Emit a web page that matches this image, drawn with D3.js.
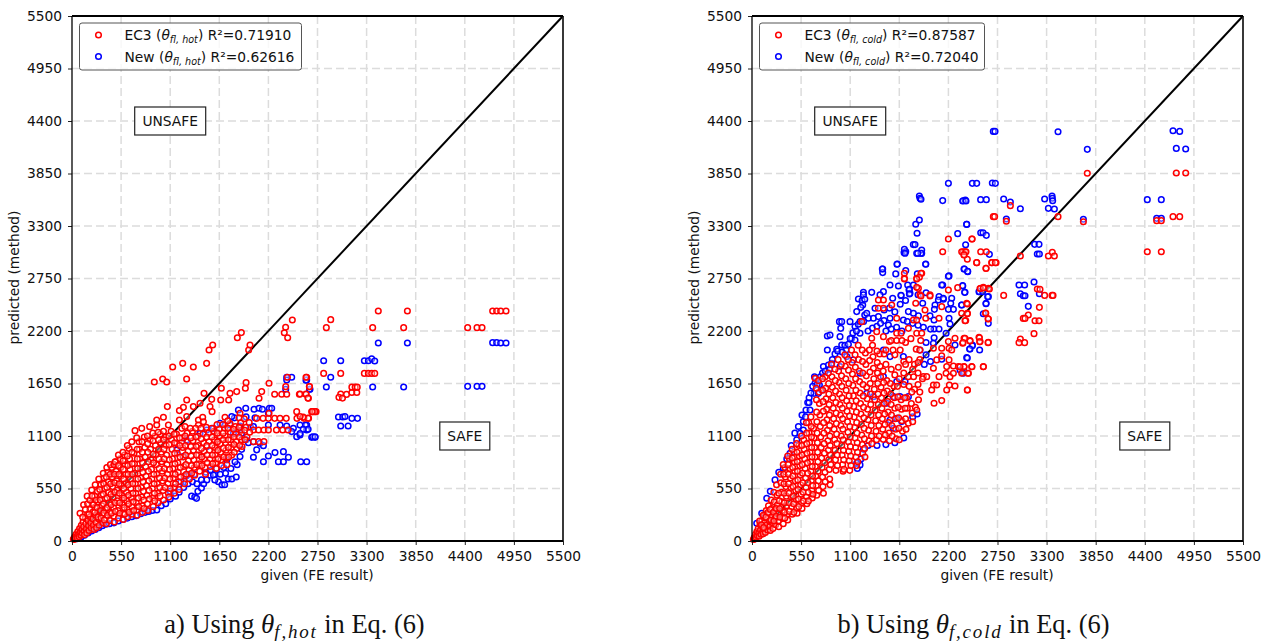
<!DOCTYPE html>
<html>
<head>
<meta charset="utf-8">
<script src="https://cdn.jsdelivr.net/npm/d3@7"></script>
<style>
  html, body { margin: 0; padding: 0; background: #fff; }
  svg { display: block; }
</style>
</head>
<body>
<div id="chart"></div>
<script>
// axis ticks shared by both panels
var tickValues = [0, 550, 1100, 1650, 2200, 2750, 3300, 3850, 4400, 4950, 5500];
var diagonal = [0, 5500];

// panel a, values as [given, predicted]
var hotNew = [
[60,25],[100,40],[140,60],[180,85],[220,105],[260,120],[300,140],[340,160],[380,175],[420,180],[470,190],[520,210],[570,225],[620,240],[670,255],[720,265],[770,285],[820,300],[860,310],[900,320],[950,325],[1000,370],[1050,390],[1100,440],[1160,470],[1200,510],[1250,560],[1300,600],[1340,470],[1375,460],[1395,447],[1410,520],[1450,555],[1475,600],[1510,640],[1550,690],[1600,700],[1640,620],[1680,590],[1710,590],[1750,650],[1790,650],[1840,670],[1600,640],[1660,700],[1720,710],[1300,700],[1370,700],
[1100,520],[1150,560],[1220,620],[1280,680],[1350,620],[1400,600],[1450,640],[1500,720],[1550,740],[1620,760],[1700,770],[1780,760],[1850,800],[1900,960],[1950,1060],[2000,1190],[2050,1290],[1950,1300],[1820,1290],
[1864,1373],[1946,1390],[2039,1380],[2095,1390],[2133,1380],[2211,1390],[2237,1390],[2200,1338],[1789,1303],[1714,1215],[1770,1215],[1882,1205],[1808,1128],[1900,1128],[1976,1030],[2032,1040],[2106,1023],[2144,999],[2032,1198],[2200,1215],[2331,1215],[2405,1205],[2480,1180],[2461,1146],[2517,1093],[2554,1111],[2685,1086],[2723,1086],[2554,1215],[2629,1215],[2629,1163],
[2032,877],[2069,955],[2144,831],[2200,891],[2274,926],[2368,936],[2312,831],[2368,831],[2424,877],[2562,831],[2629,831],
[2405,1715],[2461,1715],[2405,1687],[2394,1589],[2629,1687],[2666,1589],
[1509,1163],[1584,1180],[1658,1233],[1434,1128],[1285,1058],[1173,954],[1509,988],[1247,884],[1882,884],[1826,831],[1733,849],[1584,692],
[3431,2074],[3757,2074],[4712,2078],[4757,2078],[4802,2074],[4862,2074],
[2819,1889],[3010,1889],[3275,1889],[3320,1889],[3357,1910],[3391,1885],[2898,1715],[2849,1613],[3368,1613],[3715,1613],[4432,1620],[4537,1620],[4593,1620],
[2985,1299],[3033,1299],[3058,1303],[3135,1285],[3198,1285],[3010,1205],[3093,1205],[2621,1685],[2660,1590],[2615,1215],[2645,1170],[2590,1170],[2697,1092],[2722,1092],[2555,1125]
];
var hotEc3 = [
[15,20],[25,15],[30,45],[40,30],[45,70],[55,50],[60,30],[65,100],[75,70],[80,45],[85,130],[95,95],[100,60],[105,165],[110,120],[115,80],[125,200],[130,150],[135,100],[140,65],[150,240],[155,180],[160,125],[165,85],[175,280],[180,215],[185,160],[190,110],[200,330],[205,255],[210,190],[215,135],[225,400],[230,300],[235,230],[240,165],[245,120],[255,470],[260,350],[265,270],[270,195],[275,140],[285,520],[290,410],[295,310],[300,230],[305,165],
[325,590],[330,480],[335,370],[340,270],[345,190],[360,660],[365,550],[370,440],[375,330],[380,240],[385,180],[400,720],[405,620],[410,510],[415,400],[420,300],[425,215],[445,770],[450,670],[455,570],[460,460],[465,350],[470,260],[475,200],[490,830],[495,730],[500,630],[505,530],[510,420],[515,320],[520,240],[540,860],[545,770],[550,680],[555,580],[560,480],[565,380],[570,290],[575,225],[590,900],[595,800],[600,700],[605,610],[610,510],[615,420],[620,330],[625,255],[640,970],[645,860],[650,750],[655,650],[660,550],[665,450],[670,360],[675,280],[695,920],[700,810],[705,710],[710,600],[715,500],[720,400],[725,320],[730,270],
[706,1156],[781,1180],[750,1040],[755,960],[760,860],[765,760],[770,660],[775,560],[780,460],[785,370],[790,300],
[810,1090],[815,980],[820,880],[825,780],[830,680],[835,580],[840,480],[845,390],[850,320],
[870,1198],[875,1060],[880,960],[885,850],[890,750],[895,650],[900,550],[905,450],[910,360],
[930,1100],[935,1000],[940,900],[945,800],[950,700],[955,600],[960,500],[965,400],
[949,1268],[949,1215],[1024,1296],[1080,1215],
[990,1120],[995,1030],[1000,930],[1005,830],[1010,730],[1015,630],[1020,530],[1025,430],
[1050,1090],[1055,1000],[1060,900],[1065,800],[1070,700],[1075,600],[1080,500],[1085,460],
[1110,1150],[1115,1060],[1120,960],[1125,860],[1130,760],[1135,660],[1140,560],[1145,500],
[1170,1120],[1175,1020],[1180,920],[1185,820],[1190,720],[1195,620],[1200,540],
[1230,1180],[1235,1080],[1240,980],[1245,880],[1250,780],[1255,680],[1260,600],
[1290,1130],[1295,1040],[1300,940],[1305,840],[1310,740],[1315,650],
[1350,1150],[1355,1050],[1360,950],[1365,850],[1370,770],[1375,690],
[1410,1100],[1415,1000],[1420,900],[1425,810],[1430,730],
[1470,1120],[1475,1030],[1480,940],[1485,860],[1490,770],[1495,700],
[1530,1130],[1535,1040],[1540,950],[1545,860],[1550,780],
[1590,1150],[1595,1060],[1600,980],[1605,900],[1610,820],[1615,760],
[1650,1170],[1655,1100],[1660,1020],[1665,930],[1670,850],[1675,790],
[1710,1180],[1715,1100],[1720,1030],[1725,950],[1730,870],[1735,800],
[1770,1230],[1775,1140],[1780,1060],[1785,980],[1790,900],
[1830,1200],[1835,1120],[1840,1040],[1845,970],
[1890,1240],[1895,1160],[1900,1060],[1905,990],[1950,1190],[1960,1090],
[922,1666],[1016,1697],[1061,1666],[1128,1823],[1240,1861],[1284,1697],[1359,1823],[1508,1861],[1535,2001],[1576,2053],[1852,2130],[1897,2183],[1979,2001],[1994,2053],[2393,2240],[2378,2182],[2416,2130],[2468,2315],
[1068,1408],[1203,1366],[1248,1400],[1285,1477],[1359,1408],[1434,1443],[1479,1547],[1565,1484],[1546,1408],[1569,1355],[1666,1477],[1673,1600],[1770,1547],[1755,1477],[1845,1565],[1950,1659],[1942,1600],[2207,1652],[2125,1565],[2095,1495],[2270,1537],[2349,1537],[2405,1537],[2394,1617],[2413,1715],[2547,1537],[2629,1715],[2622,1537],[2659,1617],[2648,1495],[2517,1355],[2685,1355],[2734,1355],
[1203,1268],[1285,1303],[1416,1268],[1464,1296],[1714,1296],[1882,1338],[1472,1250],[1416,1215],
[2069,1285],[2140,1285],[2200,1285],[2270,1285],[2330,1285],[2400,1285],[2520,1285],[2600,1285],[2650,1285],
[2032,1163],[2090,1163],[2150,1163],[2200,1163],[2290,1163],[2360,1163],[2420,1163],[2032,1041],[2090,1041],[2150,1041],[2207,1338],
[3431,2410],[3757,2410],[2898,2319],[2849,2235],[3368,2235],[3715,2235],[4432,2235],[4537,2235],[4593,2235],[4712,2410],[4757,2410],[4802,2410],[4862,2410],
[2819,1756],[3010,1756],[3275,1756],[3320,1756],[3357,1756],[3391,1756],
[3010,1540],[2990,1505],[3030,1497],[3075,1536],[3135,1555],[3190,1555],[3135,1612],[3172,1612],[3195,1612],[2621,1715],[2660,1617],[2621,1540],[2643,1497],[2555,1540],
[2705,1355],[2722,1355],[2690,1355],[2645,1287],[2590,1298],[2555,1305]
];
// second pass through the dense part of the cloud
var hotEc3Dense = [
[90,290],[120,250],[130,380],[150,330],[170,470],[175,390],[190,280],[200,430],[221,535],[225,470],[240,380],[255,300],[260,590],[270,430],[280,350],[290,250],[300,650],[310,540],[315,430],[320,320],[325,240],[350,709],[355,600],[350,490],[352,390],[355,295],[362,220],
[390,770],[385,670],[390,560],[392,450],[395,350],[398,270],[430,800],[428,700],[432,600],[436,490],[438,380],[442,290],[470,800],[475,700],[478,610],[480,510],[483,400],[486,310],[482,831],[520,900],[520,790],[525,700],[528,600],[530,500],[533,400],[535,290],[570,930],[572,840],[575,750],[578,650],[580,550],[583,450],[586,350],[590,280],[620,1000],[620,890],[625,790],[628,700],[630,590],[633,480],[636,390],[640,300],[670,1040],[672,930],[675,810],[678,700],[680,600],[683,500],[686,410],[690,320],[725,1080],[730,960],[732,860],[735,760],[738,650],[740,550],[743,450],[746,360],
[785,1040],[788,930],[790,820],[793,720],[796,620],[800,520],[803,430],[806,340],[845,1100],[848,1020],[850,930],[853,830],[856,730],[860,630],[863,530],[866,440],[905,1130],[908,1050],[910,910],[913,820],[916,700],[920,600],[923,500],[926,420],[965,1140],[968,1060],[970,960],[973,860],[976,760],[980,660],[983,560],[986,470],[1025,1150],[1028,1060],[1030,960],[1033,860],[1036,760],[1040,660],[1043,560],[1085,1100],[1088,1010],[1090,850],[1093,750],[1096,650],[1100,550],[1145,1120],[1148,1030],[1150,920],[1153,810],[1156,700],[1160,600],[1205,1080],[1208,1000],[1210,880],[1213,770],[1216,670],[1265,1200],[1268,1100],[1270,1000],[1273,900],[1276,800],[1280,700],[1325,1180],[1330,1080],[1332,990],[1335,890],[1338,790],[1340,710],
[1385,1180],[1390,1090],[1392,990],[1395,900],[1398,800],[1445,1180],[1448,1070],[1450,970],[1453,880],[1456,790],[1505,1190],[1508,1090],[1510,1000],[1513,900],[1516,820],[1565,1180],[1568,1090],[1570,1000],[1573,900],[1576,810],[1625,1220],[1628,1130],[1630,1040],[1633,950],[1636,860],[1690,1220],[1692,1130],[1695,1060],[1697,970],[1700,880],[1745,1260],[1748,1180],[1750,1060],[1752,980],[1755,880],[1810,1170],[1812,1090],[1815,1010],[1818,930],[1870,1290],[1872,1190],[1875,1090],[1878,1000],[1930,1280],[1935,1160],[1938,1060],[1985,1240],[1990,1140]
];

// panel b
var coldNew = [
[1464,2850],[1464,2812],[1628,2902],[1610,2798],[1722,2833],[1946,2902],[1703,3021],[1722,3032],[1845,3014],[1901,3014],[2207,2777],[2136,2682],[2375,2850],[2416,2822],[1546,2682],[1640,2672],[1744,2682],[1808,2682],[1759,2630],[1472,2612],[1341,2605],[1248,2605],[1248,2578],[1192,2536],[1233,2518],[1263,2532],[1240,2473],[1218,2448],[1173,2403],[1263,2368],[1285,2386],[1378,2438],[1434,2578],[1576,2543],[1670,2571],[1770,2595],[1912,2490],[2095,2560],[2088,2525],[2144,2532],[2237,2543],[2226,2490],[2200,2427],[2256,2427],[2349,2473],[2360,2672],[2386,2605],[2543,2612],[2648,2560],[2622,2490],[2050,2473],[2043,2427],
[979,2298],[1005,2298],[1098,2298],[1154,2246],[994,2228],[844,2148],[874,2158],[986,2141],[1117,2124],[1154,2106],[1210,2176],[1304,2333],[1360,2333],[1416,2351],[1479,2309],[1528,2263],[1546,2333],[1696,2316],[1752,2403],[1808,2386],[1864,2358],[1994,2358],[2039,2316],[2039,2221],[2095,2221],[2207,2333],[2218,2274],[2174,2176],[2032,2071],[2274,2054],[2469,2054],[2442,2012],[2405,1921],[2125,1904],[2331,1792],[2375,1774],
[844,2001],[949,2008],[1005,2054],[1053,2001],[800,1827],[856,1844],[893,1862],[717,1705],[706,1652],[755,1635],[695,1547],[743,1547],[781,1582],[624,1450],[639,1450],[605,1373],[650,1373],[575,1251],[575,1163],[501,1059],[538,1128],[426,919],[351,762],[258,640],[165,448],[109,290],[53,185],[1210,797],[1173,814],
[1752,1512],[1658,1512],[1584,1512],[1509,1443],[1546,1268],[1621,1285],[1677,1251],[1584,1181],[1714,1670],[1621,1670],[1472,1722],[1360,1512],[1285,1547],[1882,2001],[1696,1932],[1546,1932],[1472,2001],[1136,1897],[1061,1932],[1210,1757],[986,1827],
[640,1500],[660,1550],[680,1620],[700,1720],[730,1640],[765,1720],[790,1760],[820,1780],[870,1800],[900,1900],[930,1960],[960,1990],[1010,1980],[1040,2050],[1080,2060],[1100,2120],[1130,2180],[1170,2200],[1190,2270],[1210,2300],[1250,2300],[1300,2200],[1350,2230],[1400,2250],[1440,2280],[1500,2200],[1560,2220],[1620,2240],[1680,2200],[1740,2300],[1800,2280],[1860,2260],[1920,2240],[1600,2400],[1480,2420],[1540,2440],[1660,2480],[1720,2520],[1860,2580],[1950,2600],[2000,2220],[2040,2130],[1950,2080],[1950,1950],[1930,1850],[2000,1880],[440,1000],[480,1130],[520,1200],[560,1320],[600,1300],[205,520],[300,720],[390,860],
[1300,1000],[1400,1000],[1500,1010],[1600,1030],[1700,1080],[1800,1300],[1850,1330],[1180,760],[1220,860],[1250,960],
[2703,4291],[2722,4291],[3428,4288],[3756,4103],[4716,4298],[4791,4291],[4753,4113],[4858,4106],[2468,3747],[2517,3747],[2692,3750],[2726,3747],[2367,3565],[2390,3572],[2561,3576],[2625,3576],[2819,3583],[2894,3551],[3006,3481],[3278,3583],[3361,3614],[3364,3590],[3368,3565],[3320,3485],[3387,3478],[2849,3373],[3712,3370],[4428,3576],[4585,3576],[4533,3380],[4585,3380],[2405,3317],[2562,3230],[2588,3230],[2625,3202],[2393,3104],[2659,3003],[3166,3108],[3215,3108],[3196,3006],[3219,3006],[2379,2849],[2416,2825],[2360,2675],[2382,2605],[2547,2612],[2584,2612],[2640,2559],[2621,2486],[2349,2472],[2591,2381],[2647,2280],[2991,2682],[3054,2682],[3159,2713],[3006,2591],[3039,2570],[3058,2570],[3219,2591],[3095,2458],[2468,2046],[2438,2011],[2550,2001],[2412,1917],[2367,1757],
[2200,3747],[1875,3615],[1882,3590],[1893,3580],[2136,3566],[2360,3562],[2397,3562],[1875,3363],[1834,3318],[2405,3318],[1849,3224],[2304,3220],[1807,3105],[1826,3105],[1707,3056],[1714,3014],[1901,3049],[1893,3014],[1856,3014],[1946,2899],[1624,2899],[1460,2850],[1852,2798],[2200,2773],[2125,2682],[2143,2543],[1763,2637],[1763,2588],[1669,2574]
];
var coldEc3 = [
[15,15],[25,35],[30,20],[40,70],[45,40],[55,100],[60,55],[70,130],[75,80],[80,50],[90,170],[95,115],[100,70],[110,210],[115,150],[120,100],[125,75],[135,260],[140,190],[145,130],[150,90],[160,320],[165,240],[170,170],[175,115],[185,370],[190,290],[195,210],[200,150],[205,110],[215,430],[220,340],[225,260],[230,190],[235,130],[245,510],[250,410],[255,320],[260,240],[265,170],[275,590],[280,480],[285,380],[290,290],[295,210],[300,150],
[320,700],[325,610],[330,510],[335,410],[340,320],[345,240],[350,180],[370,770],[375,670],[380,570],[385,470],[390,370],[395,280],[400,220],[420,860],[425,760],[430,660],[435,560],[440,460],[445,360],[450,280],[470,930],[475,830],[480,730],[485,630],[490,530],[495,430],[500,340],[505,290],[525,1000],[530,890],[535,790],[540,690],[545,590],[550,490],[555,400],[560,340],[580,1060],[585,960],[590,860],[595,760],[600,660],[605,560],[610,460],[615,390],[635,1240],[640,1130],[645,1030],[650,930],[655,830],[660,730],[665,630],[670,530],[675,450],[690,1180],[695,1080],[700,980],[705,880],[710,780],[715,680],[720,580],[725,480],
[706,1705],[745,1680],[750,1560],[755,1440],[760,1320],[765,1200],[770,1090],[775,980],[780,870],[785,770],[790,670],[795,570],[800,500],
[820,1720],[825,1600],[830,1490],[835,1380],[840,1270],[845,1160],[850,1050],[855,950],[860,850],[865,750],[870,650],[875,590],
[890,1850],[895,1720],[900,1610],[905,1500],[910,1390],[915,1280],[920,1170],[925,1060],[930,950],[935,850],[940,740],
[965,1900],[970,1780],[975,1660],[980,1540],[985,1430],[990,1320],[995,1210],[1000,1100],[1005,1000],[1010,900],[1015,800],[1020,730],
[1040,1950],[1045,1830],[1050,1700],[1055,1580],[1060,1470],[1065,1360],[1070,1250],[1075,1140],[1080,1040],[1085,940],[1090,840],[1095,740],
[1115,2000],[1120,1870],[1125,1750],[1130,1630],[1135,1520],[1140,1410],[1145,1300],[1150,1190],[1155,1080],[1160,980],[1165,880],[1170,790],
[1190,2050],[1195,1900],[1200,1780],[1205,1670],[1210,1550],[1215,1440],[1220,1330],[1225,1220],[1230,1110],[1235,1010],[1240,920],
[1270,1970],[1275,1850],[1280,1730],[1285,1610],[1290,1490],[1295,1380],[1300,1270],[1305,1160],[1310,1050],
[1229,2298],[1350,2050],[1355,1930],[1360,1810],[1365,1700],[1370,1590],[1375,1480],[1380,1370],[1385,1260],[1390,1150],[1395,1060],
[1430,1960],[1435,1830],[1440,1720],[1445,1610],[1450,1500],[1455,1390],[1460,1280],[1465,1170],[1470,1065],
[1510,1680],[1515,1570],[1520,1460],[1525,1350],[1530,1240],[1535,1130],[1540,1050],
[1590,1620],[1595,1500],[1600,1390],[1605,1280],[1610,1170],[1615,1070],
[1670,1480],[1675,1380],[1680,1260],[1685,1150],[1730,1500],[1740,1390],
[1700,1640],[1760,1620],[1820,1590],[1880,1560],[1830,1400],[1785,1440],[1752,1233],[1845,1373],
[1540,2090],[1600,1950],[1660,2000],[1720,2080],[1780,2120],[1840,2010],[1880,2000],[1560,2100],[1480,1960],[1620,2100],[1700,1880],[1760,1900],[1820,1850],[1880,1900],[1890,2100],
[2562,2647],[2592,2658],[2648,2647],[2622,2857],[2517,2916],[2685,2916],[2734,2916],[2200,2630],[2304,2654],[2125,2455],[2095,2333],[2405,2490],[2349,2386],[2413,2386],[2394,2309],[2618,2386],[2648,2326],[2543,2134],[2555,2089],[2648,2082],[2274,2124],[2200,2089],[2375,2124],[2442,2099],[2360,2071],[2032,2019],[2125,2019],[2207,2019],[2237,2001],[2069,1897],[2125,1939],[2032,1809],[2207,1897],[2181,1827],[2256,1834],[2312,1827],[2375,1827],[2461,1827],[2592,1827],[2349,1757],[2424,1757],[2095,1722],[2174,1757],[2218,1722],[2256,1757],[2181,1582],[2032,1635],[2069,1635],[2211,1635],[2274,1624],[2413,1582],[2013,1582],[1920,1722],[1957,1722],[2125,1471],[2039,1443],
[1416,2525],[1416,2438],[1472,2525],[1472,2438],[1565,2473],[1707,2805],[1707,2752],[1845,2752],[1901,2805],[1864,2647],[1882,2578],[1994,2578],[1834,2490],[1938,2420],[1621,2333],[1808,2316],[1845,2316],[1946,2333],[1397,2193],[1341,2124],[1472,2141],[1621,2176],[1670,2176],[1752,2228],[1845,2176],[1901,2176],
[3756,3852],[4753,3855],[4858,3855],[3428,3398],[2703,3398],[2718,3398],[2849,3349],[2894,3513],[3712,3345],[4533,3356],[4585,3356],[4716,3398],[4791,3398],[4428,3031],[4585,3031],[3006,2985],[3320,2985],[3364,3024],[3387,2985],[2464,3164],[2562,3031],[2625,3031],[2367,3031],[2390,3031],[2375,3000],[2412,2951],[2517,2916],[2688,2916],[2726,2916],[2621,2856],[2659,2640],[2554,2645],[2591,2650],[2819,2573],[3196,2640],[3226,2636],[3278,2573],[3361,2573],[3372,2573],[3219,2448],[3095,2367],[3039,2332],[3058,2332],[3170,2308],[3215,2308],[3159,2172],[3006,2116],[2991,2078],[3054,2078],[2412,2483],[2412,2381],[2617,2388],[2644,2329],[2386,2308],[2386,2123],[2364,2078],[2442,2095],[2547,2130],[2550,2088],[2644,2078],[2591,1826],[2464,1826],[2375,1826],[2330,1826],[2420,1757],[2412,1582],
[2200,3164],[2465,3164],[2136,3031],[2349,3031],[2397,3031],[2375,2997],[1893,2805],[1875,2763],[1845,2745],[1707,2745],[1845,2658],[1893,2567],[1994,2567]
];
// second pass through the dense part of the cloud
var coldEc3Dense = [
[85,210],[105,170],[130,140],[125,270],[155,250],[180,300],[205,330],[210,220],[240,300],[245,210],[270,340],[270,260],[300,500],[305,420],[310,340],[312,250],[350,800],[355,700],[358,600],[360,500],[362,400],[365,300],[368,240],[400,890],[405,800],[408,700],[410,600],[413,500],[416,400],[420,310],[450,960],[452,870],[455,770],[458,680],[460,570],[463,470],[466,390],[469,300],[500,1020],[505,930],[508,830],[510,730],[513,640],[516,540],[520,440],[523,360],[555,1100],[558,1000],[560,900],[563,800],[566,710],[570,610],[573,510],[576,420],[610,1240],[612,1130],[614,1020],[616,920],[620,820],[623,710],[626,610],[630,510],[632,420],[660,1300],[664,1200],[666,1090],[668,980],[672,880],[675,780],[678,680],[680,580],[683,490],[720,1600],[722,1480],[724,1350],[727,1250],[730,1130],[733,1030],[735,930],[738,830],[740,730],[743,630],[746,530],
[790,1700],[793,1580],[796,1460],[799,1360],[802,1240],[805,1130],[808,1020],[811,920],[814,820],[817,720],[820,620],[855,1760],[858,1650],[861,1540],[864,1430],[867,1320],[870,1210],[873,1100],[876,1000],[879,900],[882,800],[930,1800],[933,1680],[936,1570],[939,1450],[942,1340],[945,1230],[948,1120],[951,1020],[954,900],[957,790],[1000,1850],[1003,1730],[1006,1620],[1009,1500],[1012,1390],[1015,1280],[1018,1170],[1021,1060],[1024,950],[1027,850],[1030,750],[1078,1900],[1081,1790],[1084,1650],[1087,1520],[1090,1420],[1093,1310],[1096,1200],[1099,1090],[1102,990],[1105,890],[1108,790],[1155,1950],[1158,1820],[1161,1700],[1164,1580],[1167,1470],[1170,1350],[1173,1240],[1176,1130],[1179,1030],[1182,930],[1185,830],[1235,2000],[1238,1880],[1241,1760],[1244,1640],[1247,1520],[1250,1400],[1253,1290],[1256,1180],[1259,1070],[1262,970],[1265,880],[1315,2000],[1318,1890],[1321,1770],[1324,1650],[1327,1540],[1330,1430],[1333,1320],[1336,1210],[1339,1100],[1342,1020],
[1400,1990],[1403,1870],[1406,1760],[1409,1650],[1412,1540],[1415,1430],[1418,1320],[1421,1210],[1424,1100],[1470,1780],[1474,1660],[1478,1550],[1482,1440],[1486,1330],[1490,1220],[1494,1110],[1500,2000],[1550,1650],[1554,1540],[1558,1430],[1562,1320],[1566,1210],[1570,1100],[1630,1620],[1634,1510],[1638,1400],[1642,1290],[1646,1180],[1650,1060],[1710,1500],[1715,1390],[1720,1280],[1725,1170],[1790,1560],[1795,1340],[1800,1250],[1860,1640],[1865,1480],[1600,1740],[1650,1700],[1700,1760],[1750,1720],[1810,1720],[1860,1760],[1910,1700],[1560,1800],[1640,1820],[1720,1850],[1800,1800],[1860,1870],[1500,1850],[1580,2000],[1680,2100]
];

var w = 1269, h = 641;
var plotW = 491, plotH = 525;

var svg = d3.select("#chart")
    .append("svg")
    .attr("width", w)
    .attr("height", h);

var xScale = d3.scaleLinear().domain([0, 5500]).range([0, plotW]);
var yScale = d3.scaleLinear().domain([0, 5500]).range([plotH, 0]);

function drawPanel(left, top, ec3, newVals, sub, r1, r2, legendW) {
    var g = svg.append("g").attr("transform", "translate(" + left + "," + top + ")");

    // grid
    g.selectAll(".gx").data(tickValues.slice(1, -1)).enter().append("line")
        .attr("x1", function(d) { return xScale(d); })
        .attr("x2", function(d) { return xScale(d); })
        .attr("y1", 0).attr("y2", plotH)
        .attr("stroke", "#dcdcdc").attr("stroke-width", 1.5).attr("stroke-dasharray", "8,4");
    g.selectAll(".gy").data(tickValues.slice(1, -1)).enter().append("line")
        .attr("y1", function(d) { return yScale(d); })
        .attr("y2", function(d) { return yScale(d); })
        .attr("x1", 0).attr("x2", plotW)
        .attr("stroke", "#dcdcdc").attr("stroke-width", 1.5).attr("stroke-dasharray", "8,4");

    // x = y line
    g.append("line")
        .attr("x1", xScale(diagonal[0])).attr("y1", yScale(diagonal[0]))
        .attr("x2", xScale(diagonal[1])).attr("y2", yScale(diagonal[1]))
        .attr("stroke", "#000").attr("stroke-width", 2);

    // points, blue goes under red
    [[newVals, "#0000ff"], [ec3, "#ff0000"]].forEach(function(s) {
        g.append("g").selectAll("circle").data(s[0]).enter().append("circle")
            .attr("cx", function(d) { return xScale(d[0]); })
            .attr("cy", function(d) { return yScale(d[1]); })
            .attr("r", 2.8)
            .attr("fill", "#fff")
            .attr("fill-opacity", 0.35)
            .attr("stroke", s[1])
            .attr("stroke-width", 1.5);
    });

    // axes
    var xAxis = d3.axisBottom(xScale).tickValues(tickValues).tickSize(4).tickPadding(3).tickFormat(d3.format("d"));
    var yAxis = d3.axisLeft(yScale).tickValues(tickValues).tickSize(4).tickPadding(6).tickFormat(d3.format("d"));
    var ax = g.append("g").attr("transform", "translate(0," + plotH + ")").call(xAxis);
    var ay = g.append("g").call(yAxis);
    [ax, ay].forEach(function(a) {
        a.select(".domain").remove();
        a.selectAll("text").attr("font-family", "DejaVu Sans").attr("font-size", 13.8).attr("fill", "#111");
        a.selectAll("line").attr("stroke", "#222").attr("stroke-width", 1);
    });
    ax.selectAll("text").attr("dy", "0.95em");

    // frame
    g.append("line").attr("x1", 0).attr("x2", 0).attr("y1", 0).attr("y2", plotH).attr("stroke", "#000").attr("stroke-width", 1.3);
    g.append("line").attr("x1", plotW).attr("x2", plotW).attr("y1", 0).attr("y2", plotH).attr("stroke", "#222").attr("stroke-width", 1.8);
    g.append("line").attr("x1", 0).attr("x2", plotW).attr("y1", 0).attr("y2", 0).attr("stroke", "#000").attr("stroke-width", 1.8);
    g.append("line").attr("x1", 0).attr("x2", plotW).attr("y1", plotH).attr("y2", plotH).attr("stroke", "#000").attr("stroke-width", 1.8);

    // axis titles
    g.append("text").attr("x", plotW / 2 - 0.5).attr("y", 564).attr("text-anchor", "middle")
        .attr("font-family", "DejaVu Sans").attr("font-size", 13.8).attr("fill", "#111")
        .text("given (FE result)");
    g.append("text").attr("transform", "translate(-53," + (plotH / 2 - 1) + ") rotate(-90)").attr("text-anchor", "middle")
        .attr("font-family", "DejaVu Sans").attr("font-size", 13.8).attr("fill", "#111")
        .text("predicted (method)");

    // boxed labels
    boxLabel(g, xScale(1100), yScale(4400), 71, 28, "UNSAFE");
    boxLabel(g, xScale(4400), yScale(1100), 50, 28, "SAFE");

    // legend
    var lg = g.append("g").attr("transform", "translate(7.5,7)");
    lg.append("rect").attr("width", legendW).attr("height", 47).attr("rx", 2.5)
        .attr("fill", "#fff").attr("fill-opacity", 0.8).attr("stroke", "#555").attr("stroke-width", 1);
    legendRow(lg, 12, "#ff0000", "EC3", sub, r1);
    legendRow(lg, 33.5, "#0000ff", "New", sub, r2);
}

function boxLabel(g, cx, cy, bw, bh, label) {
    g.append("rect").attr("x", cx - bw / 2).attr("y", cy - bh / 2).attr("width", bw).attr("height", bh)
        .attr("fill", "#fff").attr("stroke", "#222").attr("stroke-width", 1.2);
    g.append("text").attr("x", cx).attr("y", cy + 5).attr("text-anchor", "middle")
        .attr("font-family", "DejaVu Sans").attr("font-size", 13.8).attr("fill", "#111")
        .text(label);
}

function legendRow(lg, y, color, name, sub, r2val) {
    lg.append("circle").attr("cx", 19).attr("cy", y).attr("r", 2.8)
        .attr("fill", "none").attr("stroke", color).attr("stroke-width", 1.5);
    var t = lg.append("text").attr("x", 45).attr("y", y + 5)
        .attr("font-family", "DejaVu Sans").attr("font-size", 13.8).attr("fill", "#111");
    t.append("tspan").text(name + " (");
    t.append("tspan").attr("font-style", "italic").text("θ");
    t.append("tspan").attr("font-style", "italic").attr("font-size", 9.6).attr("dy", 3).text(sub);
    t.append("tspan").attr("dy", -3).text(") R²=" + r2val);
}

function caption(cx, pre, sub) {
    var t = svg.append("text").attr("x", cx).attr("y", 633).attr("text-anchor", "middle")
        .attr("font-family", "Liberation Serif").attr("font-size", 26.4).attr("fill", "#111");
    t.append("tspan").text(pre + " Using ");
    t.append("tspan").attr("font-style", "italic").attr("font-size", 27).text("θ");
    t.append("tspan").attr("font-style", "italic").attr("font-size", 19).attr("letter-spacing", 1.8).attr("dy", 5).text(sub);
    t.append("tspan").attr("dy", -5).text(" in Eq. (6)");
}

drawPanel(72, 16, hotEc3.concat(hotEc3Dense), hotNew, "fl, hot", "0.71910", "0.62616", 222);
drawPanel(752, 16, coldEc3.concat(coldEc3Dense), coldNew, "fl, cold", "0.87587", "0.72040", 225);
caption(294.5, "a)", "f,hot");
caption(973.5, "b)", "f,cold");
</script>
</body>
</html>
